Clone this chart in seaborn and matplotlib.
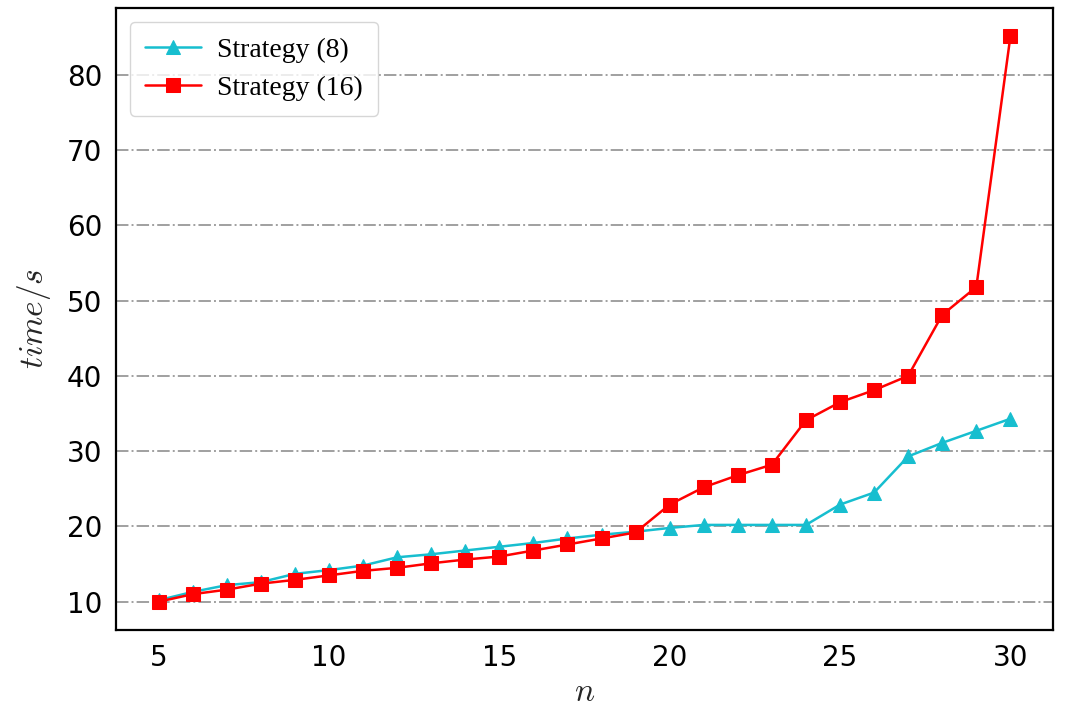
import numpy as np
import pandas as pd
import matplotlib.pyplot as plt
import seaborn as sns

n = list(range(5, 31))
strategy_8 = [10.2, 11.3, 12.2, 12.6, 13.7, 14.2, 14.8, 15.9, 16.3, 16.8, 17.3, 17.8, 18.4, 18.9, 19.3,
              19.8, 20.2, 20.2, 20.2, 20.2, 22.9, 24.5, 29.3, 31.1, 32.7, 34.3]
strategy_16 = [10.0, 11.0, 11.6, 12.4, 12.9, 13.5, 14.1, 14.5, 15.1, 15.6, 16.0, 16.8, 17.6, 18.4, 19.2,
               22.9, 25.2, 26.8, 28.2, 34.1, 36.5, 38.1, 40.0, 48.1, 51.8, 85.1]
labels = ['Strategy (8)', 'Strategy (16)']
colors = ['#17becf', '#ff0000']
markers = ['^', 's']

sns.set_theme(style='white')
plt.rcParams['mathtext.fontset'] = 'cm'
fig = plt.figure(figsize=(10.66, 7.10), dpi=100)
ax = fig.add_axes([0.1088, 0.1127, 0.879, 0.876])

for y, lab, c, m in zip([strategy_8, strategy_16], labels, colors, markers):
    sns.lineplot(x=n, y=y, ax=ax, label=lab, color=c, marker=m, markersize=10,
                 markeredgecolor=c, linewidth=1.8)

ax.yaxis.grid(True, linestyle='-.', color='#a0a0a0', linewidth=1.4)
ax.xaxis.grid(False)
ax.set_xticks([5, 10, 15, 20, 25, 30])
ax.set_yticks([10, 20, 30, 40, 50, 60, 70, 80])
ax.tick_params(axis='both', direction='out', length=6.5, width=1.5, labelsize=20, colors='black')
for s in ax.spines.values():
    s.set_color('black')
    s.set_linewidth(1.6)

ax.set_xlabel('$n$', fontsize=24, labelpad=2)
ax.set_ylabel('$time/s$', fontsize=24, labelpad=10)

leg = ax.legend(loc='upper left', prop={'family': 'Liberation Serif', 'size': 20},
                frameon=True, fancybox=True, framealpha=0.8, edgecolor='#cccccc',
                handlelength=2.0, handletextpad=0.6, borderpad=0.55, labelspacing=0.45)
for t in leg.get_texts():
    t.set_color('black')

fig.savefig('out.png', dpi=100)
